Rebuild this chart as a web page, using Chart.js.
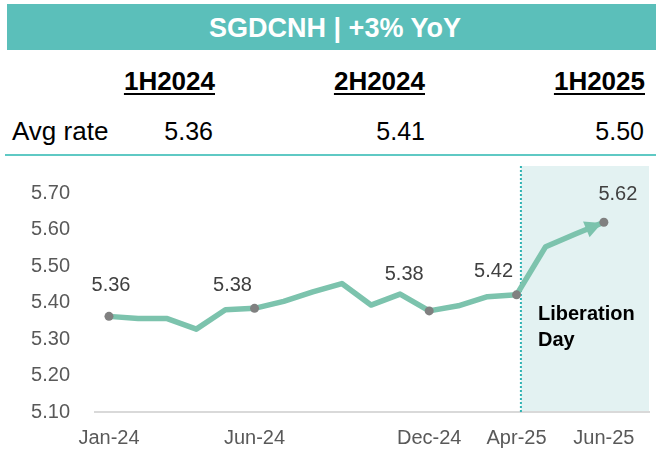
<!DOCTYPE html>
<html>
<head>
<meta charset="utf-8">
<script src="https://cdn.jsdelivr.net/npm/chart.js@4/dist/chart.umd.min.js"></script>
<style>
  body { margin: 0; background: #fff; font-family: "Liberation Sans", Arial, sans-serif; }
  #page { position: relative; width: 656px; height: 450px; overflow: hidden; }
  .band { position: absolute; left: 7px; top: 4px; width: 649px; height: 46px; background: #5bbfba; }
  .title { position: absolute; left: 14px; width: 642px; top: 13px; line-height: 30px; text-align: center; color: #fff; font-weight: bold; font-size: 27px; }
  .hd { position: absolute; top: 66px; line-height: 30px; font-size: 26px; font-weight: bold; color: #000;
        text-decoration: underline; text-decoration-thickness: 2px; text-underline-offset: 3px; }
  .val { position: absolute; top: 116px; line-height: 30px; font-size: 25px; color: #000; }
  .sep { position: absolute; left: 5px; top: 154px; width: 651px; height: 2px; background: #5fc9c4; }
  #chartBox { position: absolute; left: 0; top: 160px; width: 656px; height: 290px; }
</style>
</head>
<body>
<div id="page">
  <div class="band"></div>
  <div class="title">SGDCNH | +3% YoY</div>
  <div id="table"></div>
  <div class="sep"></div>
  <div id="chartBox"><canvas id="rateChart" width="656" height="290"></canvas></div>
</div>
<script>
// half-year averages shown above the chart
let periods = ['1H2024', '2H2024', '1H2025'];
let avgRates = ['5.36', '5.41', '5.50'];

// monthly SGDCNH, Jan-24 .. Jun-25
let rates = [5.362, 5.356, 5.356, 5.327, 5.380, 5.384, 5.403, 5.429, 5.452, 5.393, 5.423, 5.377,
             5.391, 5.416, 5.421, 5.553, 5.587, 5.620];
let xTickLabels = ['Jan-24', '', '', '', '', 'Jun-24', '', '', '', '', '', 'Dec-24',
                   '', '', 'Apr-25', '', '', 'Jun-25'];
let yTicks = [5.1, 5.2, 5.3, 5.4, 5.5, 5.6, 5.7];
let labelled = [0, 5, 11, 14, 17];   // points with a dot and value
let liberationDay = 14.15;           // x position of the dotted line

// table rows
let rights = [441, 231, 11];
let valRights = [443, 231, 12];
let tbl = document.getElementById('table');
let avgLbl = document.createElement('div');
avgLbl.className = 'val';
avgLbl.style.left = '12px';
avgLbl.style.fontSize = '26px';
avgLbl.textContent = 'Avg rate';
tbl.appendChild(avgLbl);
for (let i = 0; i < periods.length; i++) {
    let h = document.createElement('div');
    h.className = 'hd';
    h.style.right = rights[i] + 'px';
    h.textContent = periods[i];
    tbl.appendChild(h);
    let v = document.createElement('div');
    v.className = 'val';
    v.style.right = valRights[i] + 'px';
    v.textContent = avgRates[i];
    tbl.appendChild(v);
}

const FONT = '"Liberation Sans", Arial, sans-serif';

const extras = {
    id: 'extras',
    beforeDatasetsDraw(chart) {
        const ctx = chart.ctx, area = chart.chartArea, x = chart.scales.x;
        const lx = x.getPixelForValue(liberationDay);
        ctx.save();
        ctx.fillStyle = '#e3f2f2';
        ctx.fillRect(lx, area.top, area.right - lx, area.bottom - area.top - 1);
        ctx.strokeStyle = '#2fb3b3';
        ctx.lineWidth = 2;
        ctx.setLineDash([2, 2]);
        ctx.beginPath();
        ctx.moveTo(lx, area.top);
        ctx.lineTo(lx, area.bottom);
        ctx.stroke();
        ctx.setLineDash([]);
        // arrow head on the last segment
        const pts = chart.getDatasetMeta(0).data;
        const a = pts[pts.length - 2], b = pts[pts.length - 1];
        const ang = Math.atan2(b.y - a.y, b.x - a.x);
        const tipX = b.x - 2 * Math.cos(ang), tipY = b.y - 2 * Math.sin(ang);
        const len = 17, hw = 8.5;
        const bx = tipX - len * Math.cos(ang), by = tipY - len * Math.sin(ang);
        ctx.fillStyle = '#7cc3ad';
        ctx.beginPath();
        ctx.moveTo(tipX, tipY);
        ctx.lineTo(bx + hw * Math.sin(ang), by - hw * Math.cos(ang));
        ctx.lineTo(bx - hw * Math.sin(ang), by + hw * Math.cos(ang));
        ctx.closePath();
        ctx.fill();
        ctx.restore();
    },
    afterDatasetsDraw(chart) {
        const ctx = chart.ctx;
        const pts = chart.getDatasetMeta(0).data;
        const offs = {0: [2, -31], 5: [-22, -23], 11: [-25, -36], 14: [-23, -23], 17: [14, -28]};
        ctx.save();
        ctx.font = '20px ' + FONT;
        ctx.fillStyle = '#404040';
        ctx.textAlign = 'center';
        ctx.textBaseline = 'middle';
        labelled.forEach(i => {
            ctx.fillText(rates[i].toFixed(2), pts[i].x + offs[i][0], pts[i].y + offs[i][1]);
        });
        ctx.font = 'bold 20px ' + FONT;
        ctx.fillStyle = '#000';
        ctx.textAlign = 'left';
        ctx.fillText('Liberation', 538, 154);
        ctx.fillText('Day', 538, 180);
        ctx.restore();
    }
};

let data = {
    datasets: [{
        label: 'SGDCNH',
        data: rates.map((r, i) => ({x: i, y: r})),
        borderColor: '#7cc3ad',
        borderWidth: 5.5,
        borderJoinStyle: 'round',
        tension: 0,
        pointRadius: c => labelled.includes(c.dataIndex) ? 4.5 : 0,
        pointHoverRadius: c => labelled.includes(c.dataIndex) ? 4.5 : 0,
        pointBorderWidth: 0,
        pointBackgroundColor: '#808080'
    }]
};

let config = {
    type: 'line',
    data: data,
    options: {
        responsive: false,
        animation: false,
        layout: {padding: {top: 6, right: 7, left: 0, bottom: 0}},
        plugins: {legend: {display: false}, tooltip: {enabled: false}},
        scales: {
            x: {
                type: 'linear',
                min: -0.48,
                max: 18.55,
                grid: {display: false, drawTicks: false},
                border: {display: true, color: '#d9d9d9', width: 2},
                afterBuildTicks: s => {
                    s.ticks = xTickLabels.map((t, i) => t ? {value: i} : null).filter(t => t);
                },
                afterFit: s => { s.height = 38; s.paddingLeft = 0; s.paddingRight = 0; },
                ticks: {
                    autoSkip: false,
                    maxRotation: 0,
                    padding: 14,
                    color: '#595959',
                    font: {family: FONT, size: 20},
                    callback: v => xTickLabels[v] || ''
                }
            },
            y: {
                min: 5.1,
                max: 5.774,
                grid: {display: false, drawTicks: false},
                border: {display: false},
                afterBuildTicks: s => { s.ticks = yTicks.map(v => ({value: v})); },
                afterFit: s => { s.width = 95; s.paddingTop = 0; s.paddingBottom = 0; },
                ticks: {
                    padding: 25,
                    color: '#595959',
                    font: {family: FONT, size: 20},
                    callback: v => v.toFixed(2)
                }
            }
        }
    },
    plugins: [extras]
};

let rateChart = new Chart(document.getElementById('rateChart'), config);
</script>
</body>
</html>
